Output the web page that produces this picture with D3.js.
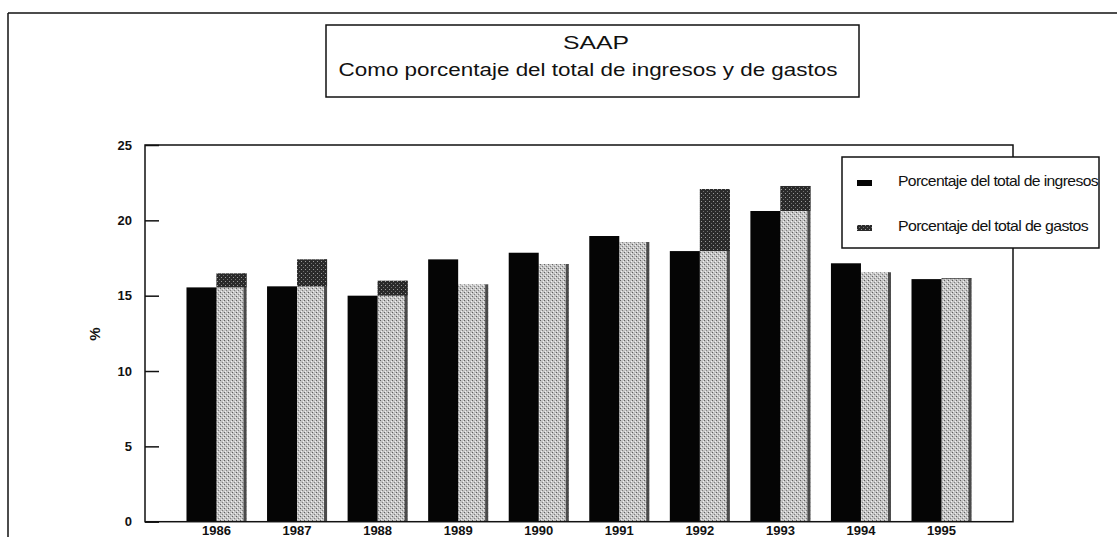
<!DOCTYPE html>
<html>
<head>
<meta charset="utf-8">
<script src="https://cdn.jsdelivr.net/npm/d3@7"></script>
<style>
  html, body { margin: 0; padding: 0; background: #fff; }
  svg { display: block; }
</style>
</head>
<body>
<svg id="chart" width="1117" height="537"></svg>
<script>
const years = ["1986","1987","1988","1989","1990","1991","1992","1993","1994","1995"];
const ingresos = [15.55, 15.62, 15.0, 17.41, 17.85, 18.96, 17.96, 20.62, 17.15, 16.1];
const gastos   = [16.48, 17.41, 15.99, 15.75, 17.1, 18.56, 22.08, 22.28, 16.55, 16.15];
const yTicks = [0, 5, 10, 15, 20, 25];
const titleLines = ["SAAP", "Como porcentaje del total de ingresos y de gastos"];
const legendLabels = ["Porcentaje del total de ingresos", "Porcentaje del total de gastos"];
const yLabel = "%";

const svg = d3.select("#chart");
const ink = "#111";

// patterns for scanned grey texture
const defs = svg.append("defs");
const pg = defs.append("pattern").attr("id","greyPat").attr("patternUnits","userSpaceOnUse")
  .attr("width",4).attr("height",4);
pg.append("rect").attr("width",4).attr("height",4).attr("fill","#c4c4c4");
pg.append("rect").attr("x",0).attr("y",0).attr("width",1).attr("height",1).attr("fill","#5f5f5f");
pg.append("rect").attr("x",2).attr("y",2).attr("width",1).attr("height",1).attr("fill","#7f7f7f");
pg.append("rect").attr("x",3).attr("y",1).attr("width",1).attr("height",1).attr("fill","#f2f2f2");
pg.append("rect").attr("x",1).attr("y",3).attr("width",1).attr("height",1).attr("fill","#f0f0f0");
const pd = defs.append("pattern").attr("id","darkPat").attr("patternUnits","userSpaceOnUse")
  .attr("width",4).attr("height",4);
pd.append("rect").attr("width",4).attr("height",4).attr("fill","#2a2a2a");
pd.append("rect").attr("x",1).attr("y",1).attr("width",1).attr("height",1).attr("fill","#9a9a9a");
pd.append("rect").attr("x",3).attr("y",3).attr("width",1).attr("height",1).attr("fill","#707070");

// outer page frame
svg.append("line").attr("x1",8).attr("x2",1117).attr("y1",13).attr("y2",13)
  .attr("stroke",ink).attr("stroke-width",1.5);
svg.append("line").attr("x1",8).attr("x2",8).attr("y1",13).attr("y2",537)
  .attr("stroke",ink).attr("stroke-width",1.5);

// title box
svg.append("rect").attr("x",326).attr("y",25).attr("width",533).attr("height",72)
  .attr("fill","#fff").attr("stroke",ink).attr("stroke-width",1.5);
svg.append("text").attr("x",596).attr("y",49).attr("text-anchor","middle")
  .attr("font-family","Liberation Sans, Arial, sans-serif").attr("font-size",17.5)
  .attr("textLength",66).attr("lengthAdjust","spacingAndGlyphs")
  .attr("fill",ink).text(titleLines[0]);
svg.append("text").attr("x",588).attr("y",76).attr("text-anchor","middle")
  .attr("font-family","Liberation Sans, Arial, sans-serif").attr("font-size",17.5)
  .attr("textLength",499).attr("lengthAdjust","spacingAndGlyphs")
  .attr("fill",ink).text(titleLines[1]);

// plot
const L = 145, R = 1013, T = 145, B = 521.7;
const x = d3.scaleBand().domain(years).range([L, R]).paddingInner(0.255).paddingOuter(0.515);
const y = d3.scaleLinear().domain([0, 25]).range([B, T]);
const half = x.bandwidth() / 2;

const g = svg.append("g");
// gastos bars (grey)
g.selectAll("rect.gas").data(years).join("rect").attr("class","gas")
  .attr("x", d => x(d) + half).attr("width", half)
  .attr("y", (d,i) => y(gastos[i])).attr("height", (d,i) => y(0) - y(gastos[i]))
  .attr("fill","url(#greyPat)");
// right dark edge of grey bars (scan shading)
g.selectAll("rect.gasEdge").data(years).join("rect").attr("class","gasEdge")
  .attr("x", d => x(d) + 2*half - 3).attr("width", 3)
  .attr("y", (d,i) => y(gastos[i])).attr("height", (d,i) => y(0) - y(gastos[i]))
  .attr("fill","#4a4a4a");
// portion of gastos above ingresos rendered darker
g.selectAll("rect.def").data(years).join("rect").attr("class","def")
  .attr("x", d => x(d) + half).attr("width", half)
  .attr("y", (d,i) => y(gastos[i]))
  .attr("height", (d,i) => Math.max(0, y(ingresos[i]) - y(gastos[i])))
  .attr("fill","url(#darkPat)");
// ingresos bars (black)
g.selectAll("rect.ing").data(years).join("rect").attr("class","ing")
  .attr("x", d => x(d)).attr("width", half)
  .attr("y", (d,i) => y(ingresos[i])).attr("height", (d,i) => y(0) - y(ingresos[i]))
  .attr("fill","#050505");

// frame of plot
svg.append("rect").attr("x",L).attr("y",T).attr("width",R-L).attr("height",B-T)
  .attr("fill","none").attr("stroke",ink).attr("stroke-width",1.5);

// y axis
const yAxis = d3.axisLeft(y).tickValues(yTicks).tickSize(-14).tickPadding(13);
const ya = svg.append("g").attr("transform",`translate(${L},0)`).call(yAxis);
ya.select(".domain").remove();
ya.selectAll(".tick line").attr("stroke",ink).attr("stroke-width",1.5);
ya.selectAll(".tick text").attr("font-family","Liberation Sans, Arial, sans-serif")
  .attr("font-size",13).attr("font-weight","bold").attr("fill",ink);

// x axis
const xAxis = d3.axisBottom(x).tickSize(0).tickPadding(0);
const xa = svg.append("g").attr("transform",`translate(0,${B})`).call(xAxis);
xa.select(".domain").remove();
xa.selectAll(".tick text").attr("dy",null).attr("y",13.3)
  .attr("font-family","Liberation Sans, Arial, sans-serif")
  .attr("font-size",13).attr("font-weight","bold").attr("fill",ink);

// y label
svg.append("text").attr("transform","translate(96,334) rotate(-90)")
  .attr("text-anchor","middle").attr("dominant-baseline","middle")
  .attr("font-family","Liberation Sans, Arial, sans-serif").attr("font-size",15)
  .attr("font-weight","bold").attr("fill",ink).text(yLabel);

// legend
const lg = svg.append("g");
lg.append("rect").attr("x",842).attr("y",157).attr("width",257).attr("height",91)
  .attr("fill","#fff").attr("stroke",ink).attr("stroke-width",1.5);
const fills = ["#050505","url(#darkPat)"];
const lys = [186, 231];
const lws = [200, 190];
legendLabels.forEach((t,i) => {
  lg.append("rect").attr("x",857).attr("y",lys[i]-6).attr("width",15).attr("height",6)
    .attr("fill",fills[i]);
  lg.append("text").attr("x",898).attr("y",lys[i])
    .attr("font-family","Liberation Sans Narrow, Liberation Sans, Arial, sans-serif")
    .attr("font-size",15).attr("letter-spacing",-0.6)
    .attr("textLength",lws[i]).attr("lengthAdjust","spacingAndGlyphs")
    .attr("fill",ink).text(t);
});
</script>
</body>
</html>
